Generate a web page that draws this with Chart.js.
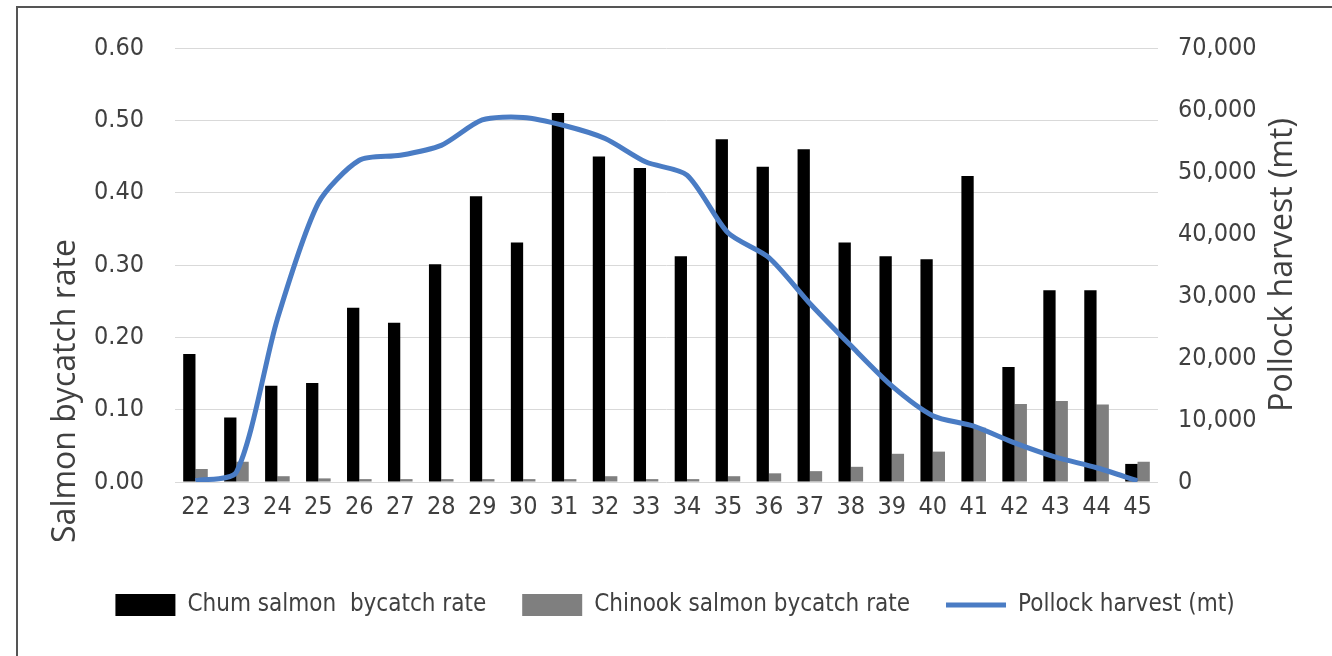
<!DOCTYPE html>
<html>
<head>
<meta charset="utf-8">
<title>Salmon bycatch rate and pollock harvest by week</title>
<script src="https://cdn.jsdelivr.net/npm/chart.js@4.4.1/dist/chart.umd.min.js"></script>
<style>
  html, body { margin: 0; padding: 0; background: #fff; }
  #wrap { position: relative; width: 1332px; height: 656px; overflow: hidden; }
  #frame {
    position: absolute; left: 16px; top: 6px; right: -10px; bottom: -10px;
    border-left: 2px solid #555; border-top: 2px solid #555; pointer-events: none;
  }
</style>
</head>
<body>
<div id="wrap">
  <canvas id="chart" width="1332" height="656"></canvas>
  <div id="frame"></div>
</div>
<script>
// statistical week
const weeks = ["22", "23", "24", "25", "26", "27", "28", "29", "30", "31", "32", "33",
  "34", "35", "36", "37", "38", "39", "40", "41", "42", "43", "44", "45"];

const chumRate = [0.177, 0.089, 0.133, 0.137, 0.241, 0.220, 0.301, 0.395, 0.331, 0.510, 0.450, 0.434,
  0.312, 0.474, 0.436, 0.460, 0.331, 0.312, 0.308, 0.423, 0.159, 0.265, 0.265, 0.025];

const chinookRate = [0.018, 0.028, 0.008, 0.005, 0.004, 0.004, 0.004, 0.004, 0.004, 0.004, 0.008, 0.004,
  0.004, 0.008, 0.012, 0.015, 0.021, 0.039, 0.042, 0.075, 0.108, 0.112, 0.107, 0.028];

const pollockHarvest = [200, 1600, 26300, 45000, 51900, 52700, 54300, 58400, 58800, 57500, 55400, 51600,
  49500, 40200, 36200, 28800, 22000, 15500, 10700, 9000, 6300, 4000, 2300, 200];

const seriesNames = ["Chum salmon  bycatch rate", "Chinook salmon bycatch rate", "Pollock harvest (mt)"];
const leftTitle = "Salmon bycatch rate";
const rightTitle = "Pollock harvest (mt)";

const colors = {
  chum: "#000000",
  chinook: "#7f7f7f",
  pollock: "#4a7cc4",
  grid: "#d9d9d9",
  text: "#404040",
};

const narrow = '"Liberation Sans Narrow", "Arial Narrow", "DejaVu Sans Condensed", sans-serif';
const fmtThousands = new Intl.NumberFormat("en-US");

// Excel-style axis titles: both read bottom-to-top
const axisTitles = {
  id: "axisTitles",
  afterDraw(chart) {
    const { ctx, chartArea } = chart;
    const spots = [
      [leftTitle, chartArea.left - 109, chartArea.bottom - 91],
      [rightTitle, chartArea.right + 125, (chartArea.top + chartArea.bottom) / 2],
    ];
    spots.forEach(([text, x, y]) => {
      ctx.save();
      ctx.font = '32px "Open Sans", sans-serif';
      ctx.fillStyle = colors.text;
      ctx.textAlign = "center";
      ctx.textBaseline = "middle";
      ctx.translate(x, y);
      ctx.rotate(-Math.PI / 2);
      ctx.fillText(text, 0, 0);
      ctx.restore();
    });
  },
};

new Chart(document.querySelector("#chart"), {
  data: {
    labels: weeks,
    datasets: [
      {
        type: "bar",
        label: seriesNames[0],
        data: chumRate,
        backgroundColor: colors.chum,
        yAxisID: "y",
        order: 1,
        categoryPercentage: 0.6,
        barPercentage: 1.0,
      },
      {
        type: "bar",
        label: seriesNames[1],
        data: chinookRate,
        backgroundColor: colors.chinook,
        yAxisID: "y",
        order: 1,
        categoryPercentage: 0.6,
        barPercentage: 1.0,
      },
      {
        type: "line",
        label: seriesNames[2],
        data: pollockHarvest,
        borderColor: colors.pollock,
        backgroundColor: colors.pollock,
        borderWidth: 5,
        pointRadius: 0,
        tension: 0.25,
        yAxisID: "y2",
        order: 0,
      },
    ],
  },
  options: {
    responsive: false,
    animation: false,
    layout: { padding: { left: 18, right: 0, top: 48, bottom: 29 } },
    plugins: {
      tooltip: { enabled: false },
      legend: {
        position: "bottom",
        labels: {
          usePointStyle: true,
          pointStyleWidth: 60,
          boxHeight: 22,
          padding: 36,
          color: colors.text,
          font: { family: narrow, size: 24 },
          generateLabels: (chart) => {
            const items = Chart.defaults.plugins.legend.labels.generateLabels(chart);
            items.sort((a, b) => a.datasetIndex - b.datasetIndex);
            return items.map((item) => ({
              ...item,
              pointStyle: item.datasetIndex === 2 ? "line" : "rect",
              lineWidth: item.datasetIndex === 2 ? 5 : 0,
            }));
          },
        },
      },
    },
    scales: {
      x: {
        grid: { display: false },
        border: { display: false },
        ticks: { color: colors.text, font: { family: narrow, size: 25 }, padding: 2, maxRotation: 0 },
        afterFit: (scale) => { scale.height = 75; },
      },
      y: {
        position: "left",
        min: 0,
        max: 0.6,
        grid: { color: colors.grid, drawTicks: false },
        border: { display: false },
        ticks: {
          stepSize: 0.1,
          padding: 31,
          color: colors.text,
          font: { family: narrow, size: 25 },
          callback: (v) => Number(v).toFixed(2),
        },
        afterFit: (scale) => { scale.width = 157; },
      },
      y2: {
        position: "right",
        min: 0,
        max: 70000,
        grid: { display: false, drawTicks: false },
        border: { display: false },
        ticks: {
          stepSize: 10000,
          padding: 20,
          color: colors.text,
          font: { family: narrow, size: 25 },
          callback: (v) => fmtThousands.format(v),
        },
        afterFit: (scale) => { scale.width = 174; },
      },
    },
  },
  plugins: [axisTitles],
});
</script>
</body>
</html>
